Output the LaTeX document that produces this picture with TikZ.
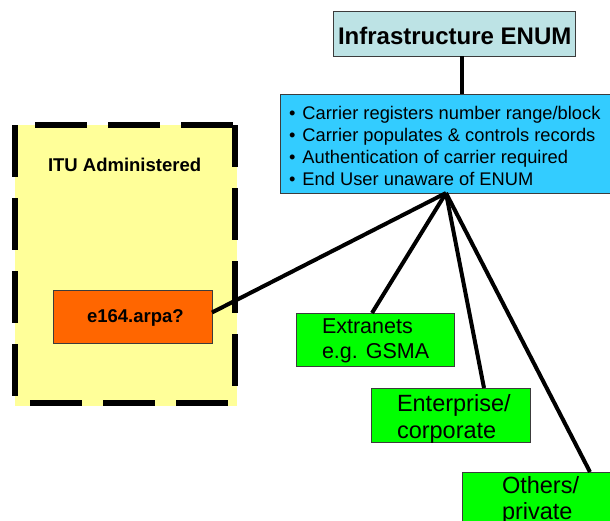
\documentclass[tikz,border=0pt]{standalone}
\usepackage{fontspec}
\setmainfont{Liberation Sans}
\definecolor{infrafill}{RGB}{189,227,229}
\definecolor{bluefill}{RGB}{51,204,255}
\definecolor{greenfill}{RGB}{0,255,0}
\definecolor{orangefill}{RGB}{255,102,0}
\definecolor{itufill}{RGB}{255,255,153}
\definecolor{boxline}{RGB}{60,60,60}
\begin{document}
\begin{tikzpicture}[x=1pt,y=-1pt,
  box/.style={draw=boxline, line width=1pt, inner sep=0pt, outer sep=0pt, anchor=north west},
  conn/.style={line width=4pt, draw=black},
  dashside/.style={line width=6pt, draw=black, dash pattern=on 52pt off 21pt},
  lbl/.style={anchor=base west, inner sep=0pt, outer sep=0pt},
  fbig/.style={font=\fontsize{23.5}{28}\selectfont},
  fmid/.style={font=\fontsize{21.5}{25}\selectfont},
  fbul/.style={font=\fontsize{18.3}{22}\selectfont},
  fbold/.style={font=\bfseries\fontsize{18.5}{22}\selectfont}]
\useasboundingbox (0,0) rectangle (610,520);
\clip (0,0) rectangle (610,520);
\fill[white] (0,0) rectangle (610,520);

% ITU administered area
\node[fill=itufill, inner sep=0pt, outer sep=0pt, anchor=north west,
      minimum width=222pt, minimum height=281pt] (itufill) at (15,125) {};
\coordinate (itunw) at (15,125);
\coordinate (itune) at (235,125);
\coordinate (itusw) at (15,403);
\coordinate (ituse) at (235,403);
\draw[dashside] (itunw) -- (itusw);
\draw[dashside] ([xshift=20pt]itunw) -- (itune);
\draw[dashside, dash phase=10pt] (itune) -- (ituse);
\draw[dashside] ([xshift=15pt]itusw) -- (ituse);
\node[lbl, fbold] (itulbl) at (48,171) {ITU Administered};

% boxes
\node[box, fill=infrafill, minimum width=242pt, minimum height=45pt] (infra) at (333,11) {};
\node[box, fill=bluefill, minimum width=350pt, minimum height=99pt] (blue) at (280,94) {};
\node[box, fill=orangefill, minimum width=159pt, minimum height=53pt] (e164) at (53,290) {};
\node[box, fill=greenfill, minimum width=158pt, minimum height=53pt] (ext) at (296,313) {};
\node[box, fill=greenfill, minimum width=159pt, minimum height=54pt] (ent) at (371,388) {};
\node[box, fill=greenfill, minimum width=170pt, minimum height=70pt] (oth) at (462,472) {};

% connectors
\coordinate (hub) at (446,193);
\draw[conn] ([xshift=8pt]infra.south) -- ([xshift=8pt]infra.south |- blue.north);
\draw[conn] ([yshift=4pt]e164.east) -- (hub);
\draw[conn] (hub) -- ([xshift=-3pt]ext.north);
\draw[conn] (hub) -- ([xshift=33.5pt]ent.north);
\draw[conn] (hub) -- ([xshift=128pt]oth.north west);

% texts
\node[lbl, font=\bfseries\fontsize{24}{28}\selectfont] (infratxt) at (338,44.3) {Infrastructure ENUM};
\node[lbl, fbul] (b1) at (289,119) {\makebox[13.5pt][l]{•}Carrier registers number range/block};
\node[lbl, fbul] (b2) at (289,141) {\makebox[13.5pt][l]{•}Carrier populates \& controls records};
\node[lbl, fbul] (b3) at (289,163) {\makebox[13.5pt][l]{•}Authentication of carrier required};
\node[lbl, fbul] (b4) at (289,185) {\makebox[13.5pt][l]{•}End User unaware of ENUM};
\node[lbl, fbold] (e164txt) at (87,322) {e164.arpa?};
\node[lbl, fmid] (ext1) at (322,333.3) {Extranets};
\node[lbl, fmid] (ext2) at (322,358.3) {e.g. GSMA};
\node[lbl, fbig] (ent1) at (397,411.7) {Enterprise/};
\node[lbl, fbig] (ent2) at (397,438) {corporate};
\node[lbl, fbig] (oth1) at (502,493) {Others/};
\node[lbl, fbig] (oth2) at (502,519) {private};
\end{tikzpicture}
\end{document}
